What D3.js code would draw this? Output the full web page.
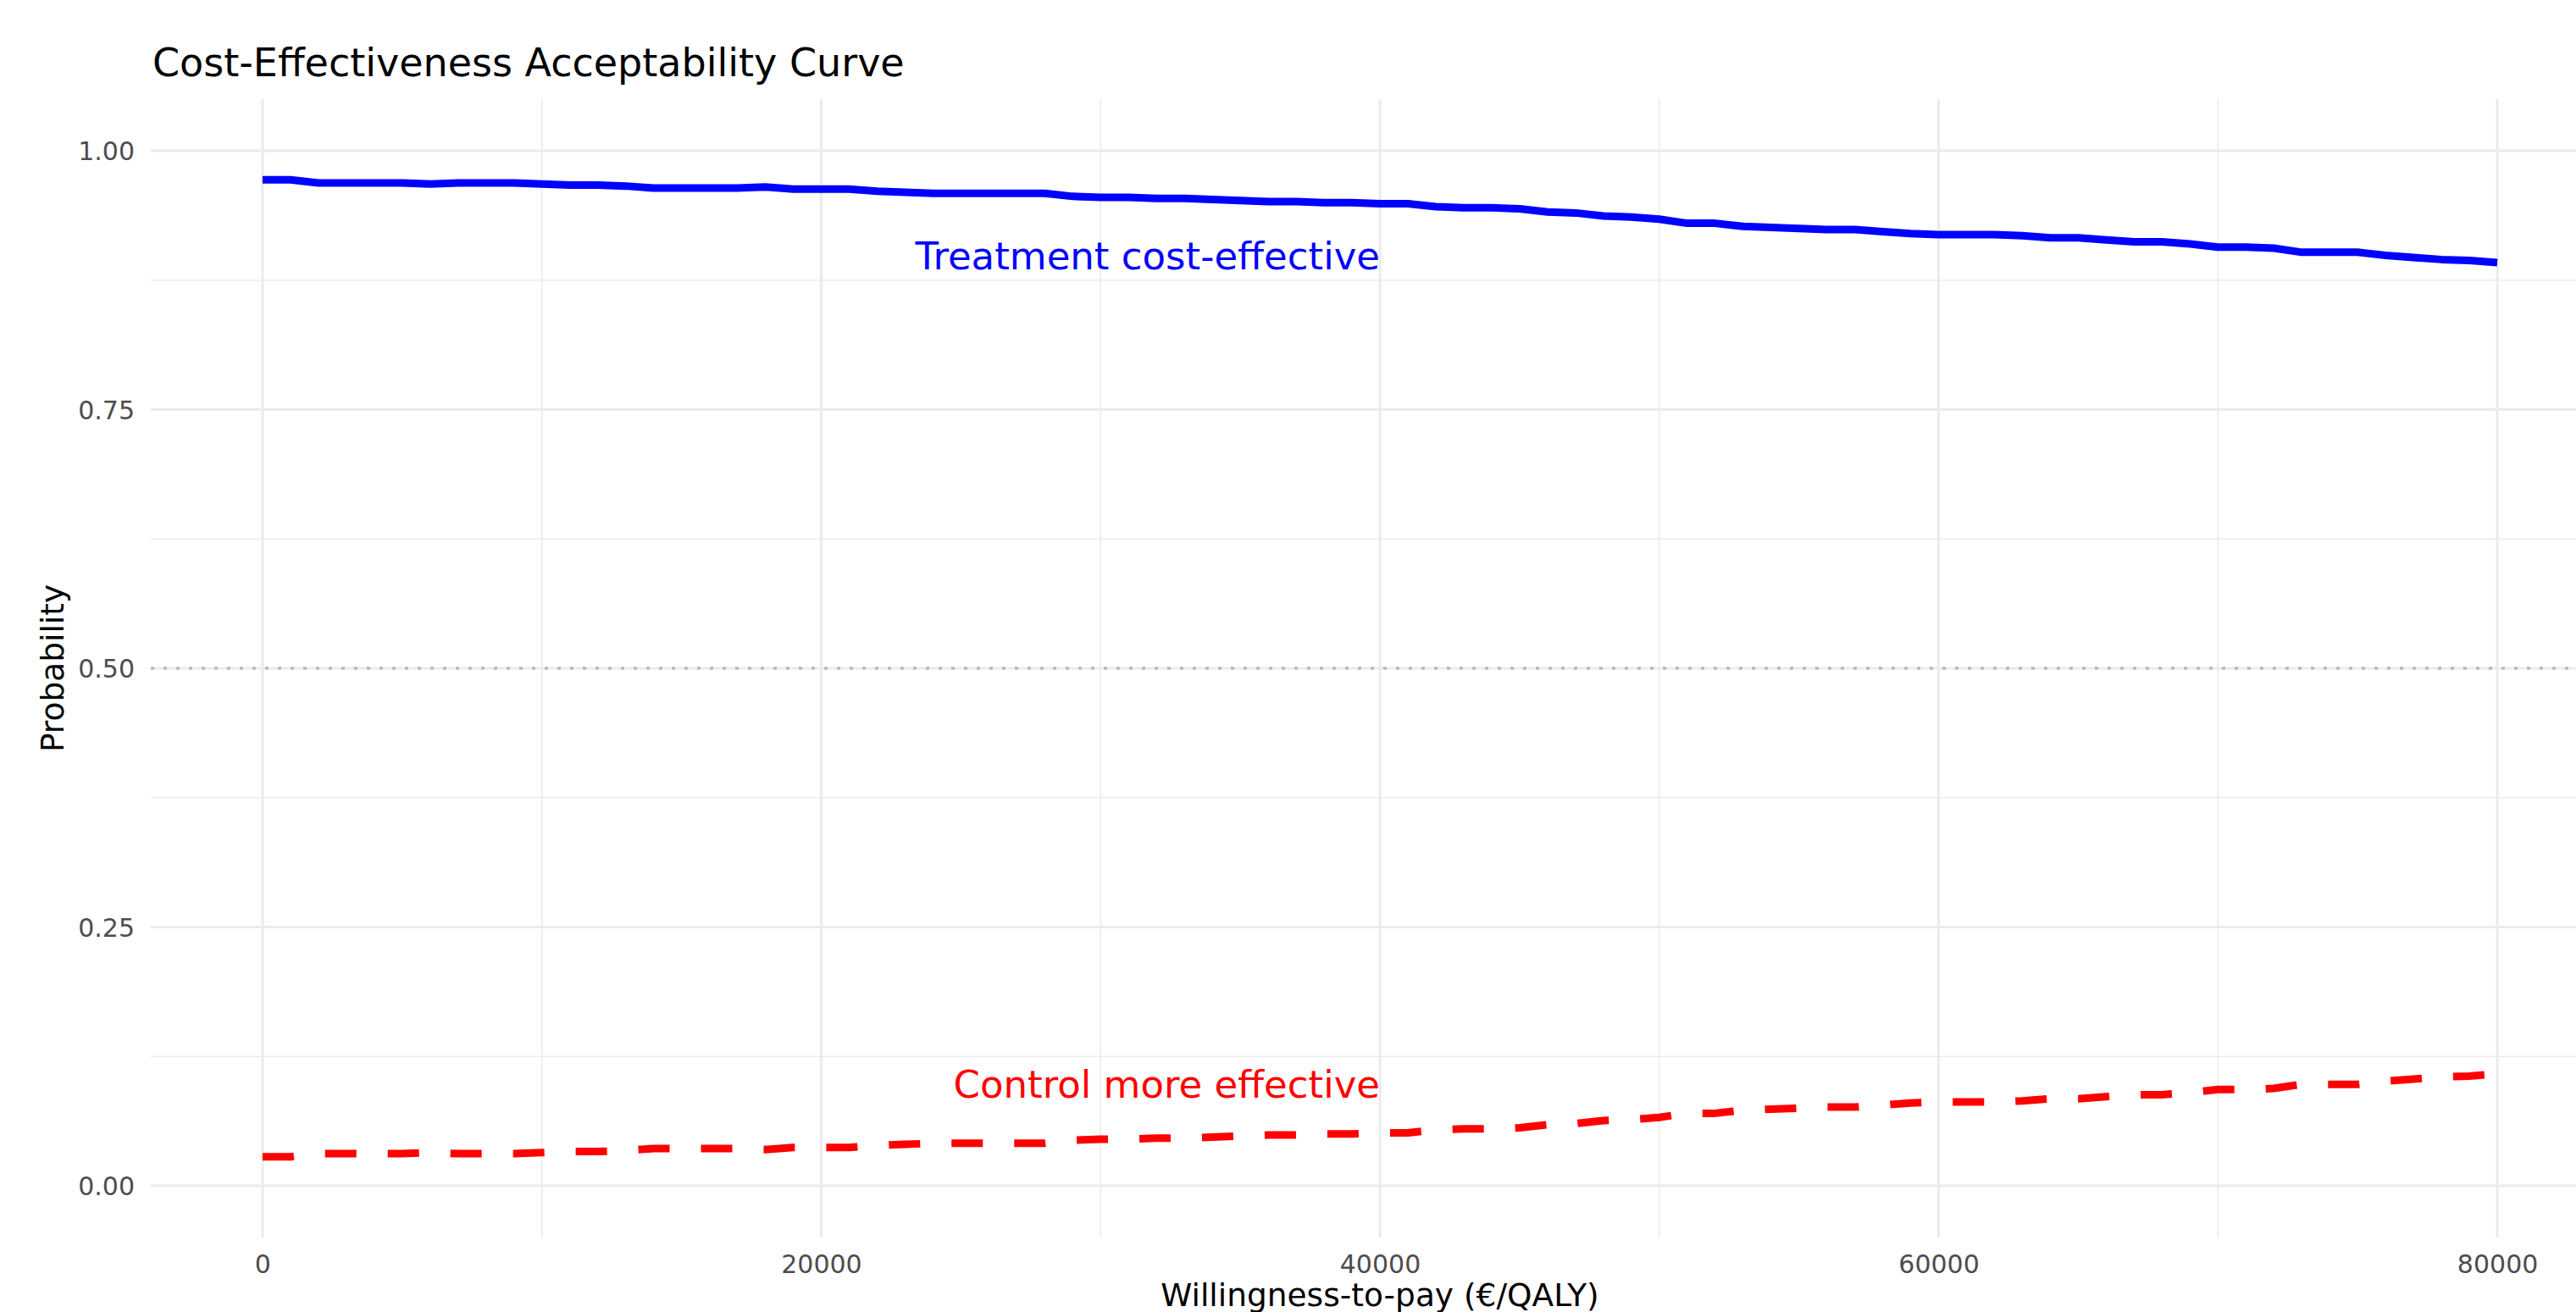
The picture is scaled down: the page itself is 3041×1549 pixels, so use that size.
<!DOCTYPE html>
<head>
<meta charset="utf-8">
<title>Cost-Effectiveness Acceptability Curve</title>
<script src="https://d3js.org/d3.v7.min.js"></script>
<style>
body { margin: 0; background: #fff; }
text { font-family: "DejaVu Sans", sans-serif; }
</style>
</head>
<body>
<script>
// willingness-to-pay grid (every 1000)
var wtp = d3.range(0, 81).map(function(i) { return i * 1000; });

var treatment = [
  0.972, 0.972, 0.969, 0.969, 0.969, 0.969, 0.968, 0.969, 0.969, 0.969,
  0.968, 0.967, 0.967, 0.966, 0.964, 0.964, 0.964, 0.964, 0.965, 0.963,
  0.963, 0.963, 0.961, 0.960, 0.959, 0.959, 0.959, 0.959, 0.959, 0.956,
  0.955, 0.955, 0.954, 0.954, 0.953, 0.952, 0.951, 0.951, 0.950, 0.950,
  0.949, 0.949, 0.946, 0.945, 0.945, 0.944, 0.941, 0.940, 0.937, 0.936,
  0.934, 0.930, 0.930, 0.927, 0.926, 0.925, 0.924, 0.924, 0.922, 0.920,
  0.919, 0.919, 0.919, 0.918, 0.916, 0.916, 0.914, 0.912, 0.912, 0.910,
  0.907, 0.907, 0.906, 0.902, 0.902, 0.902, 0.899, 0.897, 0.895, 0.894,
  0.892
];

var control = [
  0.028, 0.028, 0.031, 0.031, 0.031, 0.031, 0.032, 0.031, 0.031, 0.031,
  0.032, 0.033, 0.033, 0.034, 0.036, 0.036, 0.036, 0.036, 0.035, 0.037,
  0.037, 0.037, 0.039, 0.040, 0.041, 0.041, 0.041, 0.041, 0.041, 0.044,
  0.045, 0.045, 0.046, 0.046, 0.047, 0.048, 0.049, 0.049, 0.050, 0.050,
  0.051, 0.051, 0.054, 0.055, 0.055, 0.056, 0.059, 0.060, 0.063, 0.064,
  0.066, 0.070, 0.070, 0.073, 0.074, 0.075, 0.076, 0.076, 0.078, 0.080,
  0.081, 0.081, 0.081, 0.082, 0.084, 0.084, 0.086, 0.088, 0.088, 0.090,
  0.093, 0.093, 0.094, 0.098, 0.098, 0.098, 0.101, 0.103, 0.105, 0.106,
  0.108
];

var xTicks = [0, 20000, 40000, 60000, 80000];
var xMinor = [10000, 30000, 50000, 70000];
var yTicks = [0, 0.25, 0.5, 0.75, 1];
var yMinor = [0.125, 0.375, 0.625, 0.875];

var width = 3041, height = 1549;
// panel box (the original plot ran past the right edge)
var pLeft = 178, pRight = 3080, pTop = 117, pBottom = 1461;

var svg = d3.select("body").append("svg")
  .attr("width", width)
  .attr("height", height)
  .attr("xmlns", "http://www.w3.org/2000/svg");

var x = d3.scaleLinear().domain([-4000, 84000]).range([pLeft, pRight]);
var y = d3.scaleLinear().domain([-0.05, 1.05]).range([pBottom, pTop]);

// grid
var grid = svg.append("g");
grid.selectAll(".xminor").data(xMinor).enter().append("line")
  .attr("x1", x).attr("x2", x).attr("y1", pTop).attr("y2", pBottom)
  .attr("stroke", "#ebebeb").attr("stroke-width", 1.6);
grid.selectAll(".yminor").data(yMinor).enter().append("line")
  .attr("y1", y).attr("y2", y).attr("x1", pLeft).attr("x2", pRight)
  .attr("stroke", "#ebebeb").attr("stroke-width", 1.6);
grid.selectAll(".xmajor").data(xTicks).enter().append("line")
  .attr("x1", x).attr("x2", x).attr("y1", pTop).attr("y2", pBottom)
  .attr("stroke", "#ebebeb").attr("stroke-width", 3);
grid.selectAll(".ymajor").data(yTicks).enter().append("line")
  .attr("y1", y).attr("y2", y).attr("x1", pLeft).attr("x2", pRight)
  .attr("stroke", "#ebebeb").attr("stroke-width", 3);

// reference line at 0.5
svg.append("line")
  .attr("x1", pLeft).attr("x2", pRight)
  .attr("y1", y(0.5)).attr("y2", y(0.5))
  .attr("stroke", "#b8b8b8").attr("stroke-width", 3.5)
  .attr("stroke-dasharray", "4,11");

// axes
var xAxis = svg.append("g")
  .attr("transform", "translate(0," + pBottom + ")")
  .call(d3.axisBottom(x).tickValues(xTicks).tickFormat(d3.format("d")).tickSize(0));
xAxis.select(".domain").remove();
xAxis.selectAll("text")
  .attr("y", 42).attr("dy", null)
  .attr("fill", "#4d4d4d").style("font-size", "30px")
  .style("font-family", "DejaVu Sans");

var yAxis = svg.append("g")
  .attr("transform", "translate(" + pLeft + ",0)")
  .call(d3.axisLeft(y).tickValues(yTicks).tickFormat(d3.format(".2f")).tickSize(0).tickPadding(19));
yAxis.select(".domain").remove();
yAxis.selectAll("text")
  .attr("dy", "0.36em")
  .attr("fill", "#4d4d4d").style("font-size", "30px")
  .style("font-family", "DejaVu Sans");

// curves
var line = d3.line()
  .x(function(d, i) { return x(wtp[i]); })
  .y(function(d) { return y(d); });

svg.append("path")
  .datum(treatment)
  .attr("d", line)
  .attr("fill", "none")
  .attr("stroke", "#0000ff")
  .attr("stroke-width", 9)
  .attr("stroke-linejoin", "round");

svg.append("path")
  .datum(control)
  .attr("d", line)
  .attr("fill", "none")
  .attr("stroke", "#ff0000")
  .attr("stroke-width", 9)
  .attr("stroke-dasharray", "37,37")
  .attr("stroke-linejoin", "round");

// annotations
svg.append("text")
  .attr("x", x(40000)).attr("y", y(0.9) + 18)
  .attr("text-anchor", "end")
  .attr("fill", "#0000ff")
  .style("font-size", "45px")
  .text("Treatment cost-effective");

svg.append("text")
  .attr("x", x(40000)).attr("y", y(0.1) + 18)
  .attr("text-anchor", "end")
  .attr("fill", "#ff0000")
  .style("font-size", "45px")
  .text("Control more effective");

// titles
svg.append("text")
  .attr("x", 180).attr("y", 90)
  .style("font-size", "46px")
  .text("Cost-Effectiveness Acceptability Curve");

svg.append("text")
  .attr("x", (pLeft + pRight) / 2).attr("y", 1542)
  .attr("text-anchor", "middle")
  .style("font-size", "37.5px")
  .text("Willingness-to-pay (€/QALY)");

svg.append("text")
  .attr("transform", "translate(75," + ((pTop + pBottom) / 2) + ") rotate(-90)")
  .attr("text-anchor", "middle")
  .style("font-size", "37.5px")
  .text("Probability");
</script>
</body>
